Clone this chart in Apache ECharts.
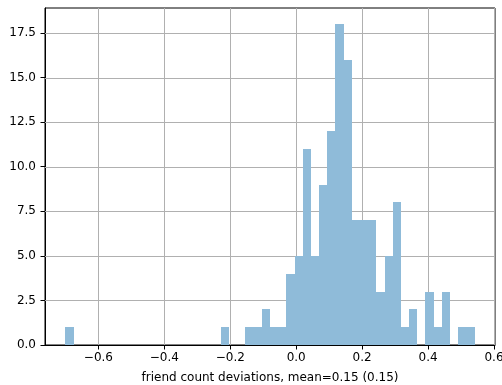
<!DOCTYPE html>
<html>
<head>
<meta charset="utf-8">
<script src="https://cdn.jsdelivr.net/npm/echarts@6/dist/echarts.min.js"></script>
<style>html,body{margin:0;padding:0;background:#fff}#c{width:502px;height:385px}</style>
</head>
<body>
<div id="c"></div>
<script>
// Histogram: 50 equal bins between binLo and binHi
const binLo = -0.700;
const binHi = 0.541;
const counts = [1,0,0,0,0,0,0,0,0,0, 0,0,0,0,0,0,0,0,0,1, 0,0,1,1,2,1,1,4,5,11, 5,9,12,18,16,7,7,7,3,5, 8,1,2,0,3,1,3,0,1,1];
const xTicks = [-0.6, -0.4, -0.2, 0.0, 0.2, 0.4, 0.6];
const yTicks = [0, 2.5, 5, 7.5, 10, 12.5, 15, 17.5];
const xLabel = 'friend count deviations, mean=0.15 (0.15)';

const nBins = counts.length;
const w = (binHi - binLo) / nBins;
const bars = counts.map((c, i) => [binLo + i * w, binLo + (i + 1) * w, c]);
const span = binHi - binLo;
const xMin = binLo - 0.05 * span, xMax = binHi + 0.05 * span;
const yMax = Math.max(...counts) * 1.05;
const font = 'DejaVu Sans';
const fs = 12;

// grid line records: [kind(0 = vertical, 1 = horizontal), value]
const gridData = xTicks.map(v => [0, v]).concat(yTicks.slice(1).map(v => [1, v]));

const chart = echarts.init(document.getElementById('c'), null, {renderer: 'canvas'});
chart.setOption({
  animation: false,
  backgroundColor: '#fff',
  grid: {left: 45, right: 7, top: 8, bottom: 40, containLabel: false, outerBoundsMode: 'none',
    show: true, borderColor: '#000', borderWidth: 1, backgroundColor: 'transparent'},
  xAxis: {
    type: 'value', min: xMin, max: xMax,
    name: xLabel, nameLocation: 'middle', nameGap: 27,
    nameTextStyle: {fontFamily: font, fontSize: fs, color: '#000'},
    axisLine: {onZero: false, lineStyle: {color: '#000', width: 1}},
    axisTick: {show: true, customValues: xTicks, length: 4.5, lineStyle: {color: '#000'}},
    axisLabel: {customValues: xTicks, fontFamily: font, fontSize: fs, color: '#000', margin: 7,
      formatter: v => (v < 0 ? '\u2212' : '') + Math.abs(v).toFixed(1)},
    splitLine: {show: false}
  },
  yAxis: {
    type: 'value', min: 0, max: yMax,
    axisLine: {show: true, onZero: false, lineStyle: {color: '#000', width: 1}},
    axisTick: {show: true, customValues: yTicks, length: 4.5, lineStyle: {color: '#000'}},
    axisLabel: {customValues: yTicks, fontFamily: font, fontSize: fs, color: '#000', margin: 9,
      formatter: v => v.toFixed(1)},
    splitLine: {show: false}
  },
  series: [
    {
      type: 'custom', z: 1, silent: true,
      data: gridData,
      encode: {x: -1, y: -1},
      renderItem: (params, api) => {
        const kind = api.value(0), v = api.value(1);
        let a, b;
        if (kind === 0) {
          a = api.coord([v, 0]); b = api.coord([v, yMax]);
          a[0] = b[0] = Math.round(a[0]) + 0.5;
        } else {
          a = api.coord([xMin, v]); b = api.coord([xMax, v]);
          a[1] = b[1] = Math.round(a[1]) + 0.5;
        }
        return {type: 'line', shape: {x1: a[0], y1: a[1], x2: b[0], y2: b[1]},
          style: {stroke: '#b0b0b0', lineWidth: 1}};
      }
    },
    {
      type: 'custom', z: 10, zlevel: 1,
      data: bars,
      encode: {x: [0, 1], y: 2},
      renderItem: (params, api) => {
        if (api.value(2) <= 0) return null;
        const p0 = api.coord([api.value(0), api.value(2)]);
        const p1 = api.coord([api.value(1), 0]);
        const x0 = Math.round(p0[0]), x1 = Math.round(p1[0]);
        const yTop = Math.round(p0[1]), yBot = Math.floor(p1[1]);
        return {
          type: 'rect',
          shape: {x: x0, y: yTop, width: x1 - x0, height: yBot - yTop},
          style: {fill: '#8fbbd9'}
        };
      }
    }
  ]
});
</script>
</body>
</html>
